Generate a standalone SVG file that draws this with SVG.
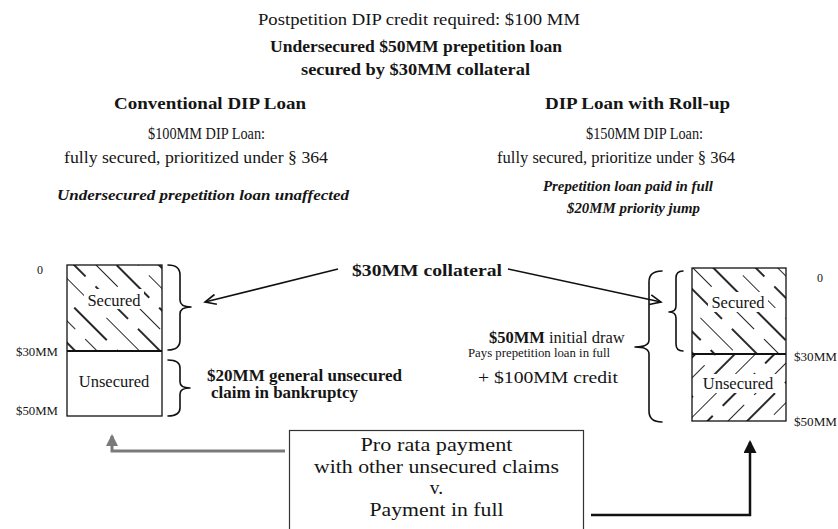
<svg xmlns="http://www.w3.org/2000/svg" width="838" height="529" viewBox="0 0 838 529">
<style>
  text { font-family: "Liberation Serif", "Times New Roman", serif; fill: #151515; }
  .b { font-weight: bold; }
  .bi { font-weight: bold; font-style: italic; }
  .c { text-anchor: middle; }
  .box { fill: none; stroke: #111; stroke-width: 1.3; }
  .brace { fill: none; stroke: #111; stroke-width: 1.6; stroke-linejoin: round; stroke-linecap: round; }
  .arr { fill: none; stroke: #111; stroke-width: 1.6; }
  .lab { font-size: 16.5px; }
  .axis { font-size: 12px; }
  .big { font-size: 19.5px; }
</style>
<defs>
  <pattern id="hatchBack" patternUnits="userSpaceOnUse" width="30" height="60" patternTransform="rotate(-45)">
    <line x1="0" y1="0" x2="0" y2="60" stroke="#111" stroke-width="1.8" stroke-dasharray="46 14"/>
    <line x1="15" y1="0" x2="15" y2="60" stroke="#111" stroke-width="1.8" stroke-dasharray="46 14" stroke-dashoffset="30"/>
  </pattern>
  <pattern id="hatchFwd" patternUnits="userSpaceOnUse" width="28" height="60" patternTransform="rotate(45)">
    <line x1="0" y1="0" x2="0" y2="60" stroke="#111" stroke-width="1.8" stroke-dasharray="46 14"/>
    <line x1="14" y1="0" x2="14" y2="60" stroke="#111" stroke-width="1.8" stroke-dasharray="46 14" stroke-dashoffset="30"/>
  </pattern>
  <marker id="openArrow" markerUnits="userSpaceOnUse" markerWidth="14" markerHeight="12" refX="12" refY="6" orient="auto">
    <path d="M1,1 L12,6 L1,11" fill="none" stroke="#111" stroke-width="1.6"/>
  </marker>
  <marker id="grayHead" markerUnits="userSpaceOnUse" markerWidth="14" markerHeight="14" refX="10" refY="6" orient="auto">
    <path d="M0,0 L12,6 L0,12 Z" fill="#7a7a7a"/>
  </marker>
  <marker id="blackHead" markerUnits="userSpaceOnUse" markerWidth="16" markerHeight="14" refX="11" refY="6.5" orient="auto">
    <path d="M0,0 L13,6.5 L0,13 Z" fill="#111"/>
  </marker>
</defs>

<g id="header">
  <text class="c" x="419" y="25" font-size="17" textLength="322" lengthAdjust="spacingAndGlyphs">Postpetition DIP credit required:  $100 MM</text>
  <text class="c b" x="416" y="52" font-size="17" textLength="292" lengthAdjust="spacingAndGlyphs">Undersecured $50MM prepetition  loan</text>
  <text class="c b" x="415.5" y="75" font-size="17" textLength="229" lengthAdjust="spacingAndGlyphs">secured by $30MM collateral</text>
</g>

<g id="conventional-title">
  <text class="c b" x="210" y="109" font-size="17" textLength="192" lengthAdjust="spacingAndGlyphs">Conventional DIP Loan</text>
  <text class="c" x="206.5" y="139" font-size="16" textLength="117" lengthAdjust="spacingAndGlyphs">$100MM  DIP Loan:</text>
  <text class="c" x="196" y="163" font-size="16" textLength="264" lengthAdjust="spacingAndGlyphs">fully  secured,  prioritized  under  § 364</text>
  <text class="c bi" x="203" y="200" font-size="14.5" textLength="292" lengthAdjust="spacingAndGlyphs">Undersecured prepetition loan unaffected</text>
</g>

<g id="rollup-title">
  <text class="c b" x="637.5" y="109" font-size="17" textLength="185" lengthAdjust="spacingAndGlyphs">DIP Loan with Roll-up</text>
  <text class="c" x="644.5" y="139" font-size="16" textLength="117" lengthAdjust="spacingAndGlyphs">$150MM  DIP Loan:</text>
  <text class="c" x="616" y="163" font-size="16" textLength="238" lengthAdjust="spacingAndGlyphs">fully  secured,  prioritize  under  § 364</text>
  <text class="c bi" x="628" y="191" font-size="14.5" textLength="170" lengthAdjust="spacingAndGlyphs">Prepetition loan paid in full</text>
  <text class="c bi" x="633.5" y="213" font-size="14.5" textLength="133" lengthAdjust="spacingAndGlyphs">$20MM priority jump</text>
</g>

<g id="left-bar">
  <rect x="67" y="265" width="95" height="86" fill="url(#hatchBack)"/>
  <rect x="84" y="289" width="60" height="20" fill="#fff"/>
  <rect x="67" y="265" width="95" height="151" class="box"/>
  <line x1="67" y1="351" x2="162" y2="351" stroke="#111" stroke-width="2"/>
  <text class="c lab" x="114" y="306">Secured</text>
  <text class="c lab" x="114" y="387">Unsecured</text>
  <text class="c axis" x="40" y="274">0</text>
  <text class="axis" x="16" y="356" textLength="42" lengthAdjust="spacingAndGlyphs">$30MM</text>
  <text class="axis" x="16" y="415" textLength="42" lengthAdjust="spacingAndGlyphs">$50MM</text>
</g>

<g id="left-braces">
  <path class="brace" d="M168,265 Q180,265 180,275 L180,300 Q180,307 191,307 Q180,307 180,314 L180,340 Q180,350 168,350"/>
  <path class="brace" d="M168,360 Q180,360 180,368 L180,382 Q180,388 190,388 Q180,388 180,394 L180,408 Q180,416 168,416"/>
</g>

<g id="left-claim">
  <text class="b" x="207" y="381" font-size="16" textLength="195" lengthAdjust="spacingAndGlyphs">$20MM general unsecured</text>
  <text class="b" x="211" y="398" font-size="16" textLength="147" lengthAdjust="spacingAndGlyphs">claim in bankruptcy</text>
</g>

<g id="collateral-label">
  <text class="c b" x="427" y="276" font-size="17.5" textLength="150" lengthAdjust="spacingAndGlyphs">$30MM collateral</text>
</g>

<g id="right-bar">
  <rect x="692" y="268" width="94" height="86" fill="url(#hatchBack)"/>
  <rect x="692" y="354" width="94" height="67" fill="url(#hatchFwd)"/>
  <rect x="708" y="292" width="60" height="20" fill="#fff"/>
  <rect x="700" y="374" width="78" height="19" fill="#fff"/>
  <rect x="692" y="268" width="94" height="153" class="box"/>
  <line x1="692" y1="354" x2="786" y2="354" stroke="#111" stroke-width="2"/>
  <text class="c lab" x="738" y="308">Secured</text>
  <text class="c lab" x="738" y="389">Unsecured</text>
  <text class="c axis" x="820" y="282">0</text>
  <text class="axis" x="794" y="361" textLength="43" lengthAdjust="spacingAndGlyphs">$30MM</text>
  <text class="axis" x="794" y="426" textLength="43" lengthAdjust="spacingAndGlyphs">$50MM</text>
</g>

<g id="right-braces">
  <path class="brace" d="M683,271 Q676,271 676,278 L676,306 Q676,312 669,312 Q676,312 676,318 L676,344 Q676,351 683,351"/>
  <path class="brace" d="M662,271 Q649,271 649,282 L649,340 Q649,347 635,347 Q649,347 649,354 L649,411 Q649,422 662,422"/>
</g>

<g id="right-draw">
  <text x="489" y="343" font-size="16.5"><tspan class="b">$50MM</tspan> initial  draw</text>
  <text x="468" y="357" font-size="12.5" textLength="142" lengthAdjust="spacingAndGlyphs">Pays prepetition  loan in full</text>
  <text x="478" y="383" font-size="17" textLength="140" lengthAdjust="spacingAndGlyphs">+  $100MM  credit</text>
</g>

<g id="comparison-box">
  <rect x="289.5" y="430.5" width="294" height="110" fill="#fff" stroke="#333" stroke-width="1.2"/>
  <text class="c big" x="436.5" y="451" textLength="152" lengthAdjust="spacingAndGlyphs">Pro rata payment</text>
  <text class="c big" x="436.5" y="472.7" textLength="245" lengthAdjust="spacingAndGlyphs">with other unsecured claims</text>
  <text class="c big" x="436.5" y="494.4">v.</text>
  <text class="c big" x="436.5" y="516.1" textLength="134" lengthAdjust="spacingAndGlyphs">Payment in full</text>
</g>

<g id="connectors">
  <line class="arr" x1="338" y1="269" x2="205" y2="302" marker-end="url(#openArrow)"/>
  <line class="arr" x1="508" y1="269" x2="661" y2="302" marker-end="url(#openArrow)"/>
  <path d="M285,451 L112,451 L112,436" fill="none" stroke="#7a7a7a" stroke-width="3" marker-end="url(#grayHead)"/>
  <path d="M591,515 L750,515 L750,442" fill="none" stroke="#111" stroke-width="2.5" marker-end="url(#blackHead)"/>
</g>
</svg>
